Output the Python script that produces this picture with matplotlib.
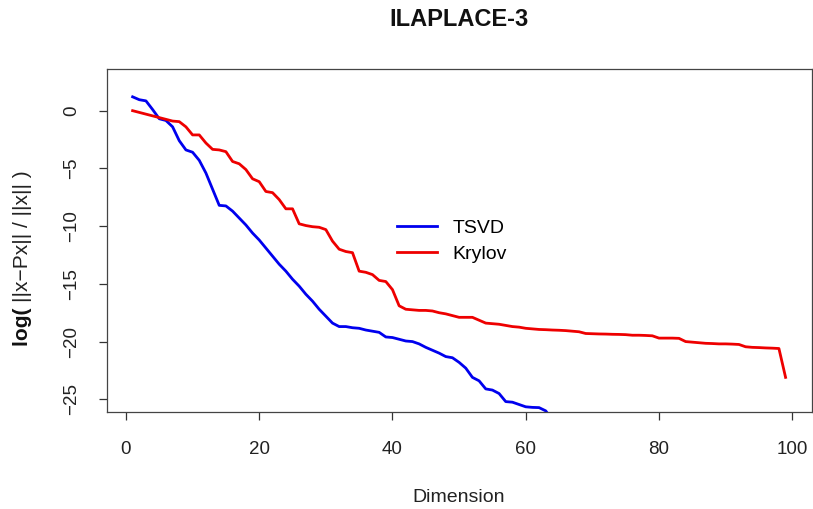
import matplotlib
matplotlib.use("Agg")
import matplotlib.pyplot as plt

plt.rcParams['font.family'] = ['Liberation Sans', 'DejaVu Sans']

title = "ILAPLACE-3"
x_label = "Dimension"
series_names = ["TSVD", "Krylov"]

tsvd_dim = list(range(1, 65))
tsvd_err = [1.2, 0.95, 0.85, 0.1, -0.7, -0.85, -1.4, -2.6, -3.4, -3.6,
            -4.3, -5.4, -6.8, -8.2, -8.25, -8.7, -9.3, -9.9, -10.6, -11.2,
            -11.9, -12.6, -13.3, -13.9, -14.6, -15.2, -15.9, -16.5, -17.2, -17.8,
            -18.4, -18.7, -18.7, -18.8, -18.85, -19.0, -19.1, -19.2, -19.6, -19.65,
            -19.8, -19.95, -20.0, -20.2, -20.5, -20.75, -21.0, -21.3, -21.4, -21.8,
            -22.3, -23.1, -23.4, -24.1, -24.2, -24.5, -25.2, -25.25, -25.45, -25.65,
            -25.7, -25.72, -26.0, -26.8]

krylov_dim = list(range(1, 100))
krylov_err = [0.0, -0.15, -0.3, -0.45, -0.6, -0.75, -0.9, -0.95, -1.4, -2.1,
              -2.1, -2.8, -3.35, -3.4, -3.55, -4.4, -4.6, -5.1, -5.9, -6.15,
              -7.0, -7.1, -7.7, -8.5, -8.5, -9.8, -9.95, -10.05, -10.1, -10.3,
              -11.3, -12.0, -12.2, -12.3, -13.9, -14.0, -14.2, -14.7, -14.8, -15.5,
              -16.9, -17.2, -17.25, -17.3, -17.3, -17.35, -17.5, -17.6, -17.75, -17.9,
              -17.9, -17.9, -18.15, -18.4, -18.45, -18.5, -18.6, -18.7, -18.75, -18.85,
              -18.9, -18.95, -18.97, -19.0, -19.02, -19.05, -19.1, -19.15, -19.3, -19.32,
              -19.34, -19.35, -19.37, -19.38, -19.4, -19.45, -19.45, -19.47, -19.5, -19.7,
              -19.7, -19.7, -19.72, -20.0, -20.05, -20.1, -20.15, -20.17, -20.2, -20.2,
              -20.22, -20.25, -20.45, -20.5, -20.52, -20.55, -20.57, -20.6, -23.1]

x_ticks = [0, 20, 40, 60, 80, 100]
y_ticks = [0, -5, -10, -15, -20, -25]

W, H = 813, 509
fig = plt.figure(figsize=(W / 100, H / 100), dpi=100)
ax = fig.add_axes([106.5 / W, 1 - 412 / H, (811.7 - 106.5) / W, (412 - 69) / H])

ax.plot(tsvd_dim, tsvd_err, color="#0000ee", lw=2.0, label=series_names[0])
ax.plot(krylov_dim, krylov_err, color="#ee0000", lw=2.0, label=series_names[1])

ax.set_xlim(-2.92, 102.92)
ax.set_ylim(-26.1, 3.61)
ax.set_xticks(x_ticks)
ax.set_yticks(y_ticks)
ax.set_yticklabels([str(v).replace("-", "\u2212") for v in y_ticks],
                   rotation=90, va="center")
ax.tick_params(direction="out", length=5.8, width=0.9, labelsize=13.5,
               color="#333333", labelcolor="#222222")
ax.tick_params(axis="x", pad=15)
ax.tick_params(axis="y", pad=13)
for s in ax.spines.values():
    s.set_linewidth(0.9)
    s.set_color("#444444")

ax.legend(loc="center left", bbox_to_anchor=(0.412, 0.4985), frameon=False,
          fontsize=14, handlelength=2.05, handletextpad=0.8, borderpad=0,
          borderaxespad=0, labelspacing=0.4)

fig.text(459 / W, 1 - 20 / H, title, ha="center", va="center",
         fontsize=17, fontweight="bold", color="#111111")
fig.text(459 / W, 1 - 497 / H, x_label, ha="center", va="center",
         fontsize=14, color="#222222")

# y label: bold "log(" followed by normal text
t1 = fig.text(22 / W, 1 - 346 / H, "log( ", rotation=90, ha="center", va="bottom",
              fontsize=15, fontweight="bold", color="#111111")
ax.annotate("||x\u2212Px|| / ||x|| )", xy=(0.5, 1), xycoords=t1, rotation=90,
            ha="center", va="bottom", fontsize=15, color="#222222",
            annotation_clip=False)

fig.savefig("out.png", dpi=100)
